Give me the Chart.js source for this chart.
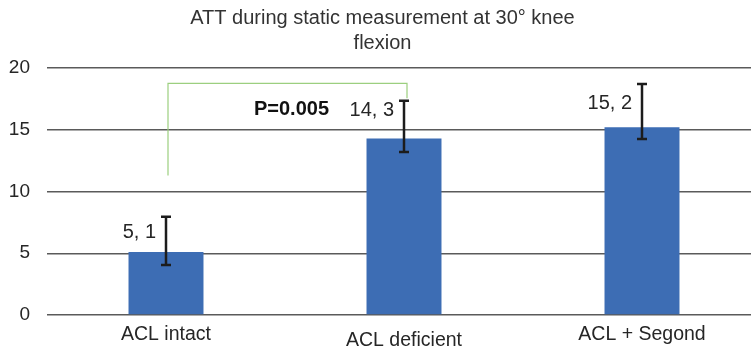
<!DOCTYPE html>
<html>
<head>
<meta charset="utf-8">
<script src="https://cdn.jsdelivr.net/npm/chart.js@4.4.0/dist/chart.umd.min.js"></script>
<style>
    html, body { margin: 0; padding: 0; background: #fff; overflow: hidden; }
    /* plot runs a little past the right edge of the window, as in the source */
    #wrap { width: 761px; height: 349px; }
</style>
</head>
<body>
<div id="wrap"><canvas id="attChart"></canvas></div>
<script>
// Chart values
const categories = ['ACL intact', 'ACL deficient', 'ACL + Segond'];
const attMeans = [5.1, 14.3, 15.2];
const errLow = [4.05, 13.2, 14.25];
const errHigh = [7.95, 17.35, 18.7];
const valueLabels = ['5, 1', '14, 3', '15, 2'];
const yTicks = [0, 5, 10, 15, 20];
const titleLines = ['ATT during static measurement at 30\u00b0 knee', 'flexion'];

// significance bracket between intact and deficient
const pValueText = 'P=0.005';
const bracketFrom = 0;
const bracketTo = 1;
const bracketTop = 18.75;
const bracketLeftEnd = 11.3;
const bracketRightEnd = 17.55;

const FONT = '"Liberation Sans", Arial, sans-serif';

// Error bars, value labels and the p-value bracket
const overlayPlugin = {
    id: 'overlay',
    afterDatasetsDraw(chart, args, opts) {
        const ctx = chart.ctx;
        const y = chart.scales.y;
        const bars = chart.getDatasetMeta(0).data;
        ctx.save();

        // bracket first, error bars sit on top of it
        const xa = bars[bracketFrom].x + 2;
        const xb = bars[bracketTo].x + 3;
        ctx.strokeStyle = '#9ccf7f';
        ctx.lineWidth = 1.2;
        ctx.beginPath();
        ctx.moveTo(xa, y.getPixelForValue(bracketLeftEnd));
        ctx.lineTo(xa, y.getPixelForValue(bracketTop));
        ctx.lineTo(xb, y.getPixelForValue(bracketTop));
        ctx.lineTo(xb, y.getPixelForValue(bracketRightEnd));
        ctx.stroke();

        ctx.strokeStyle = '#1c1c1c';
        ctx.lineWidth = 2.5;
        bars.forEach((bar, i) => {
            const top = y.getPixelForValue(errHigh[i]);
            const bottom = y.getPixelForValue(errLow[i]);
            ctx.beginPath();
            ctx.moveTo(bar.x, top);
            ctx.lineTo(bar.x, bottom);
            ctx.moveTo(bar.x - 5, top);
            ctx.lineTo(bar.x + 5, top);
            ctx.moveTo(bar.x - 5, bottom);
            ctx.lineTo(bar.x + 5, bottom);
            ctx.stroke();
        });

        ctx.fillStyle = '#262626';
        ctx.font = '20px ' + FONT;
        ctx.textAlign = 'right';
        ctx.textBaseline = 'middle';
        bars.forEach((bar, i) => {
            const top = y.getPixelForValue(errHigh[i]);
            ctx.fillText(valueLabels[i], bar.x - 10, top + opts.labelDrop[i]);
        });

        ctx.font = 'bold 20px ' + FONT;
        ctx.fillStyle = '#111';
        ctx.fillText(pValueText, bars[bracketTo].x - 75, y.getPixelForValue(errHigh[bracketTo]) + 9);
        ctx.restore();
    }
};

function initialize() {
    const ctx = document.getElementById('attChart').getContext('2d');
    new Chart(ctx, {
        type: 'bar',
        data: {
            labels: categories,
            datasets: [{
                label: 'ATT',
                data: attMeans,
                backgroundColor: '#3d6db4',
                barPercentage: 0.315,
                categoryPercentage: 1
            }]
        },
        options: {
            responsive: true,
            maintainAspectRatio: false,
            animation: false,
            layout: { padding: { left: 4, right: 0, top: 6, bottom: 0 } },
            plugins: {
                legend: { display: false },
                tooltip: { enabled: false },
                title: {
                    display: true,
                    text: titleLines,
                    color: '#333',
                    font: { family: FONT, size: 20, weight: 'normal', lineHeight: '25px' },
                    padding: { top: 0, bottom: 12 }
                },
                overlay: { labelDrop: [16, 10, 19] }
            },
            scales: {
                x: {
                    afterFit: axis => { axis.height = 34; },
                    grid: { display: false },
                    border: { display: false },
                    ticks: {
                        color: '#262626',
                        padding: 9,
                        font: { family: FONT, size: 19.5, lineHeight: '6px' },
                        callback: (v, i) => i === 1 ? ['', categories[i]] : categories[i]
                    }
                },
                y: {
                    min: 0,
                    max: 20,
                    afterFit: axis => { axis.width = 43; },
                    afterBuildTicks: axis => { axis.ticks = yTicks.map(v => ({ value: v })); },
                    border: { display: false },
                    grid: { color: '#5a5a5a', lineWidth: 1.5, drawTicks: false },
                    ticks: {
                        color: '#262626',
                        padding: 17,
                        font: { family: FONT, size: 19 }
                    }
                }
            }
        },
        plugins: [overlayPlugin]
    });
}

document.addEventListener('DOMContentLoaded', initialize);
</script>
</body>
</html>
